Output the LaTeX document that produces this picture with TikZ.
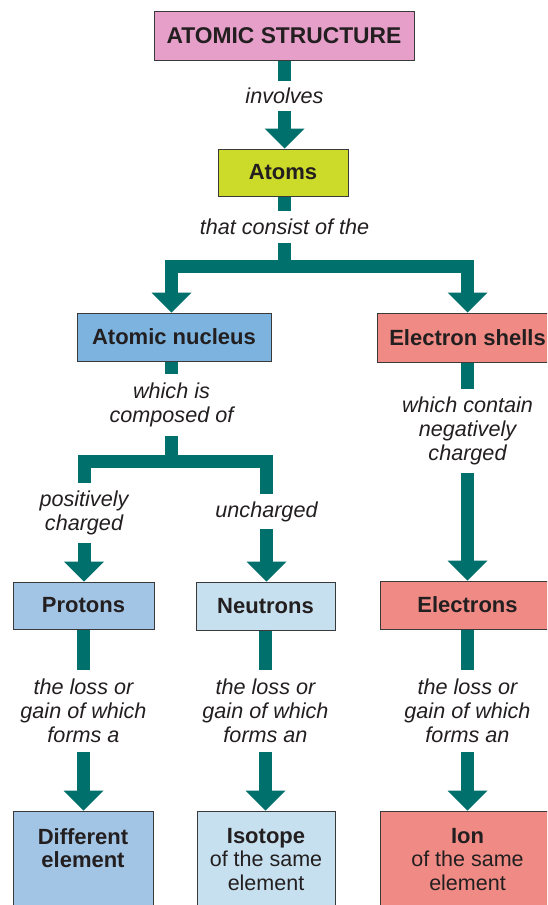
\documentclass[tikz,border=0pt]{standalone}
\usepackage{fontspec}
\setmainfont{Liberation Sans}
\usetikzlibrary{arrows.meta}
\definecolor{arrowteal}{HTML}{00706D}
\definecolor{boxline}{HTML}{3A3A3A}
\definecolor{ink}{HTML}{231F20}
\definecolor{cpink}{HTML}{E59FC8}
\definecolor{cyellow}{HTML}{CCDB29}
\definecolor{cnucleus}{HTML}{7CB4DF}
\definecolor{csalmon}{HTML}{EF8B84}
\definecolor{cproton}{HTML}{A3C5E5}
\definecolor{cneutron}{HTML}{C7E0EF}
\begin{document}
\begin{tikzpicture}[x=1pt,y=-1pt,
  box/.style={draw=boxline, line width=1pt, inner sep=0pt, text=ink,
    font=\fontsize{22}{24}\selectfont\bfseries},
  boxtext/.style={inner sep=0pt, align=center, text=ink,
    font=\fontsize{21.5}{23.5}\selectfont},
  lbl/.style={inner sep=0pt, align=center, text=ink,
    font=\fontsize{21.6}{24}\selectfont\itshape},
  shaft/.style={draw=arrowteal, line width=13pt, line join=miter},
  arr/.style={-{Triangle[width=40pt,length=20pt,line width=0pt]}}]
\useasboundingbox (0,0) rectangle (547,905);
\clip (0,0) rectangle (547,905);
\fill[white] (0,0) rectangle (547,905);

% boxes
\node[box, fill=cpink, minimum width=260pt, minimum height=49pt,
  font=\fontsize{22.8}{24}\selectfont\bfseries] (as) at (284,35.5) {ATOMIC STRUCTURE};
\node[box, fill=cyellow, minimum width=130pt, minimum height=47pt] (atoms) at (283,172.5) {Atoms};
\node[box, fill=cnucleus, minimum width=194pt, minimum height=48pt] (nuc) at (174,337) {Atomic nucleus};
\node[box, fill=csalmon, minimum width=181pt, minimum height=49pt] (shell) at (467.5,337.5) {Electron shells};
\node[box, fill=cproton, minimum width=141pt, minimum height=47pt] (prot) at (83.5,605.5) {Protons};
\node[box, fill=cneutron, minimum width=139pt, minimum height=48pt] (neut) at (265.5,606) {Neutrons};
\node[box, fill=csalmon, minimum width=175pt, minimum height=48pt] (elec) at (467.5,605) {Electrons};
\node[box, fill=cproton, minimum width=140pt, minimum height=100pt] (diff) at (83,861) {};
\node[box, fill=cneutron, minimum width=138pt, minimum height=100pt] (iso) at (266,861) {};
\node[box, fill=csalmon, minimum width=175pt, minimum height=100pt] (ion) at (467.5,861) {};
\node[boxtext, anchor=north, font=\fontsize{22}{23.5}\selectfont\bfseries] (difft) at (83,828) {Different\\element};
\node[boxtext, anchor=north] (isot) at (266,828) {{\fontsize{22}{23.5}\selectfont\bfseries Isotope}\\of the same\\element};
\node[boxtext, anchor=north] (iont) at (467.5,828) {{\fontsize{22}{23.5}\selectfont\bfseries Ion}\\of the same\\element};

% labels
\node[lbl, minimum height=30pt] (inv) at (284.5,96) {involves};
\node[lbl, minimum height=32pt] (tc) at (284.5,227) {that consist of the};
\node[lbl, minimum height=62pt] (comp) at (171.5,405) {which is\\composed of};
\node[lbl, minimum height=60pt] (pos) at (84,513) {positively\\charged};
\node[lbl, minimum height=35pt] (unc) at (266.5,511.5) {uncharged};
\node[lbl, minimum height=84pt] (cont) at (467.5,431) {which contain\\negatively\\charged};
\node[lbl, minimum height=82pt] (l1) at (83.5,711) {the loss or\\gain of which\\forms a};
\node[lbl, minimum height=82pt] (l2) at (265.5,711) {the loss or\\gain of which\\forms an};
\node[lbl, minimum height=82pt] (l3) at (467.5,711) {the loss or\\gain of which\\forms an};

\coordinate (j1) at (284.5,266.5);
\coordinate (j2) at (171.5,461.5);

% connectors
\draw[shaft] (as.south -| inv) -- (inv.north);
\draw[shaft,arr] (inv.south) -- (inv.south |- atoms.north);
\draw[shaft] (atoms.south -| tc) -- (tc.north);
\draw[shaft] (tc.south) -- (j1);
\draw[shaft,arr] (j1) -| (nuc.north -| comp);
\draw[shaft,arr] (j1) -| (shell.north);
\draw[shaft] (nuc.south -| comp) -- (comp.north);
\draw[shaft] (comp.south) -- (j2);
\draw[shaft] (j2) -| (pos.north);
\draw[shaft] (j2) -| (unc.north);
\draw[shaft,arr] (pos.south) -- (pos.south |- prot.north);
\draw[shaft,arr] (unc.south) -- (unc.south |- neut.north);
\draw[shaft] (shell.south) -- (cont.north);
\draw[shaft,arr] (cont.south) -- (elec.north);
\draw[shaft] (prot.south) -- (l1.north);
\draw[shaft,arr] (l1.south) -- (l1.south |- diff.north);
\draw[shaft] (neut.south) -- (l2.north);
\draw[shaft,arr] (l2.south) -- (l2.south |- iso.north);
\draw[shaft] (elec.south) -- (l3.north);
\draw[shaft,arr] (l3.south) -- (ion.north);
\end{tikzpicture}
\end{document}
